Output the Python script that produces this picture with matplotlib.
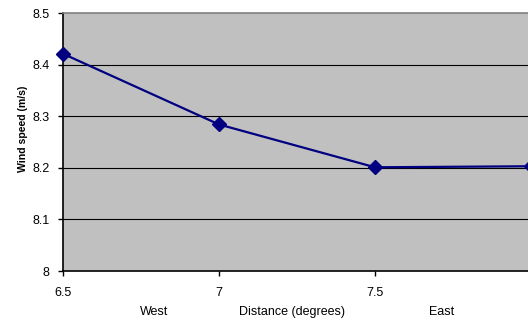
import matplotlib.pyplot as plt

plt.rcParams['font.family'] = ['Liberation Sans', 'DejaVu Sans']

# wind speed along the transect
distance = [6.5, 7.0, 7.5, 8.0]
wind_speed = [8.421, 8.284, 8.201, 8.203]

y_ticks = [8.0, 8.1, 8.2, 8.3, 8.4, 8.5]
y_tick_labels = ['8', '8.1', '8.2', '8.3', '8.4', '8.5']
x_ticks = [6.5, 7.0, 7.5]
x_tick_labels = ['6.5', '7', '7.5']

fig = plt.figure(figsize=(5.28, 3.21), dpi=100)
ax = fig.add_axes([63 / 528, 50 / 321, 468 / 528, 258 / 321])
ax.set_facecolor('#c0c0c0')

for y in y_ticks[1:-1]:
    ax.axhline(y, color='black', lw=0.8, zorder=1)

ax.plot(distance, wind_speed, color='#000080', lw=1.6, marker='D',
        markersize=7, clip_on=False, zorder=3)

ax.set_xlim(6.5, 8.0)
ax.set_ylim(8.0, 8.5)
ax.set_xticks(x_ticks)
ax.set_xticklabels(x_tick_labels)
ax.set_yticks(y_ticks)
ax.set_yticklabels(y_tick_labels)
ax.tick_params(labelsize=9, length=3.5, width=1, direction='out')
ax.tick_params(axis='x', pad=8)
ax.tick_params(axis='y', pad=6)

for side in ['left', 'bottom']:
    ax.spines[side].set_color('black')
    ax.spines[side].set_linewidth(1.2)
for side in ['top', 'right']:
    ax.spines[side].set_color('#808080')
    ax.spines[side].set_linewidth(1.2)

ax.set_ylabel('Wind speed (m/s)', fontsize=7.6, fontweight='bold')
ax.yaxis.set_label_coords(-0.074, 0.55)

fig.text(154 / 528, 1 - 312 / 321, 'West', fontsize=9, ha='center', va='center')
fig.text(292 / 528, 1 - 312 / 321, 'Distance (degrees)', fontsize=9, ha='center', va='center')
fig.text(442 / 528, 1 - 312 / 321, 'East', fontsize=9, ha='center', va='center')

fig.savefig('out.png', dpi=100)
